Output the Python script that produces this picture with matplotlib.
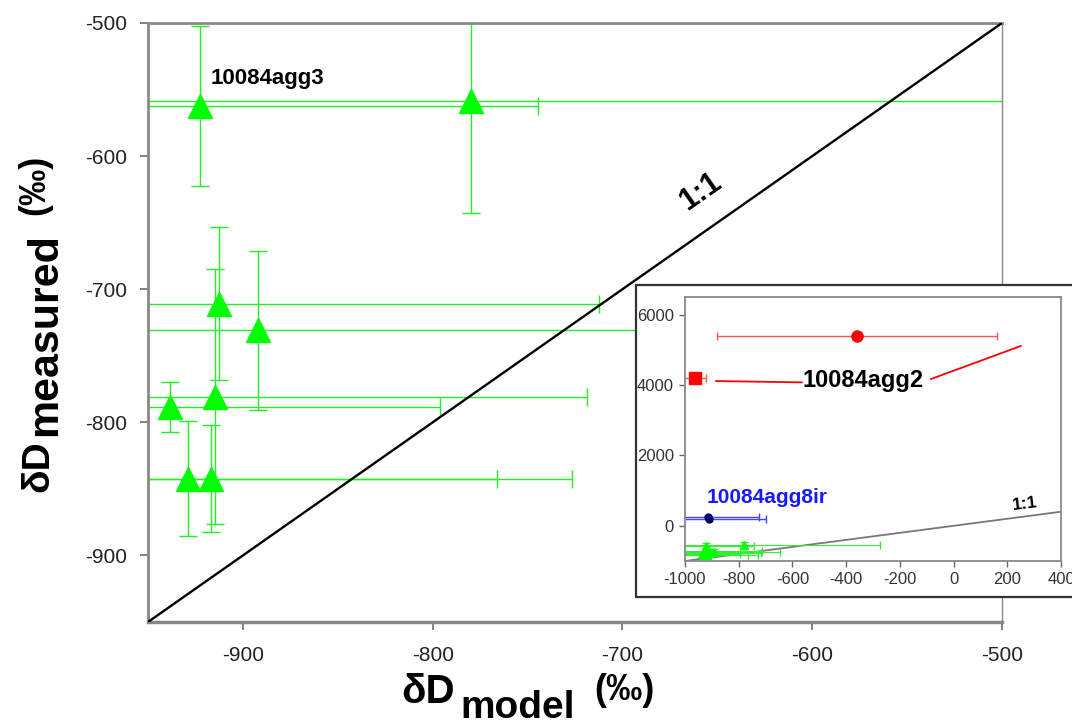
import numpy as np
import matplotlib.pyplot as plt
from matplotlib.patches import Rectangle

plt.rcParams['font.family'] = ['Liberation Sans', 'DejaVu Sans']
plt.rcParams['axes.unicode_minus'] = False

# green triangles: shown in the main panel and again in the inset
model = [-922.6, -780.0, -912.5, -892.3, -914.6, -938.3, -929.1, -916.8]
measured = [-562.3, -558.5, -710.8, -731.0, -780.7, -788.5, -842.3, -842.3]
model_err = [178, 506, 200, 245, 196, 142, 163, 190]
measured_err = [60, 84.5, 57.5, 59.5, 96, 19, 43, 40]

# inset only
agg2_model = [-963, -361]
agg2_measured = [4200, 5400]
agg2_model_err = [40, 521]
agg2_markers = ['s', 'o']
agg8_model = [-915, -910]
agg8_measured = [245, 190]
agg8_model_err = [191, 213]
agg2_trend_x = [-884, -565, np.nan, -84, 250]
agg2_trend_y = [4112, 4075, np.nan, 4170, 5108]

one_to_one = [-1000, 400]
main_ticks = [-900, -800, -700, -600, -500]
inset_xticks = [-1000, -800, -600, -400, -200, 0, 200, 400]
inset_yticks = [0, 2000, 4000, 6000]

W, H = 1072, 725


def px(x, y):
    return x / W, 1 - y / H


fig = plt.figure(figsize=(W / 100, H / 100), dpi=100)

# ---- main panel
ax = fig.add_axes([148 / W, 1 - 622 / H, 854 / W, 599 / H])
ax.plot(one_to_one, one_to_one, color='k', lw=1.7, zorder=3)
ax.errorbar(model, measured, xerr=model_err, yerr=measured_err, fmt='^', ms=17,
            color='#00ff00', mec='#00ff00', ecolor='#22ee22', elinewidth=1.0,
            capsize=6.5, capthick=1.0, zorder=2)
ax.set_xlim(-950, -500)
ax.set_ylim(-950, -500)
ax.set_xticks(main_ticks)
ax.set_yticks(main_ticks)
ax.tick_params(direction='out', length=6, width=1.3, color='#777777',
               labelsize=15, labelcolor='#222222', pad=9)
ax.tick_params(axis='x', pad=11)
for side, lw in [('left', 2), ('bottom', 2.5), ('top', 2), ('right', 1)]:
    ax.spines[side].set_color('#888888')
    ax.spines[side].set_linewidth(lw)

ax.text(-917, -542, '10084agg3', fontsize=16, fontweight='bold', ha='left',
        va='center')
ax.text(-659, -627, '1:1', fontsize=22, fontweight='bold', rotation=35,
        ha='center', va='center')

# axis labels built from pieces (subscript / raised unit)
fig.text(*px(428, 703), 'δD', fontsize=29, fontweight='bold', ha='center', va='baseline')
fig.text(*px(518, 718), 'model', fontsize=28, fontweight='bold', ha='center', va='baseline')
fig.text(*px(624, 690), '(‰)', fontsize=26, fontweight='bold', ha='center', va='center')

fig.text(*px(48, 466), 'δD', fontsize=28, fontweight='bold', rotation=90,
         rotation_mode='anchor', ha='center', va='baseline')
fig.text(*px(56, 335), 'measured', fontsize=31, fontweight='bold', rotation=90,
         rotation_mode='anchor', ha='center', va='baseline')
fig.text(*px(35, 185), '(‰)', fontsize=26, fontweight='bold', rotation=90,
         ha='center', va='center')

# ---- inset frame and inset
frame = Rectangle(px(636, 597), (1090 - 636) / W, (597 - 285) / H,
                  transform=fig.transFigure, facecolor='white',
                  edgecolor='#333333', lw=1.6, zorder=5)
fig.add_artist(frame)

axi = fig.add_axes([685 / W, 1 - 561 / H, 376 / W, 264 / H])
axi.set_zorder(6)
axi.plot(one_to_one, one_to_one, color='#777777', lw=1.3)
axi.errorbar(model, measured, xerr=model_err, yerr=measured_err, fmt='^', ms=6,
             color='#00ff00', ecolor='#33ee33', elinewidth=0.8, capsize=3)
for mx, my, me, mk in zip(agg2_model, agg2_measured, agg2_model_err, agg2_markers):
    axi.errorbar(mx, my, xerr=me, fmt=mk, ms=8, color='#ff0000',
                 ecolor='#ff5555', elinewidth=1.0, capsize=3)
axi.errorbar(agg8_model, agg8_measured, xerr=agg8_model_err, fmt='o', ms=5,
             color='#000060', ecolor='#4444ff', elinewidth=1.0, capsize=3)
axi.plot(agg2_trend_x, agg2_trend_y, color='#ff0000', lw=1.3)
axi.text(-336, 4132, '10084agg2', fontsize=17, fontweight='bold', ha='center',
         va='center')
axi.text(-919, 814, '10084agg8ir', fontsize=15, fontweight='bold',
         color='#1a1aff', ha='left', va='center')
axi.text(266, 630, '1:1', fontsize=12.5, fontweight='bold', rotation=7,
         ha='center', va='center')
axi.set_xlim(-1000, 400)
axi.set_ylim(-1000, 6500)
axi.set_xticks(inset_xticks)
axi.set_yticks(inset_yticks)
axi.tick_params(direction='out', length=4, width=1, color='#666666',
                labelsize=12, labelcolor='#333333', pad=4)
for s in axi.spines.values():
    s.set_color('#888888')
    s.set_linewidth(1.3)

fig.savefig('out.png', dpi=100)
